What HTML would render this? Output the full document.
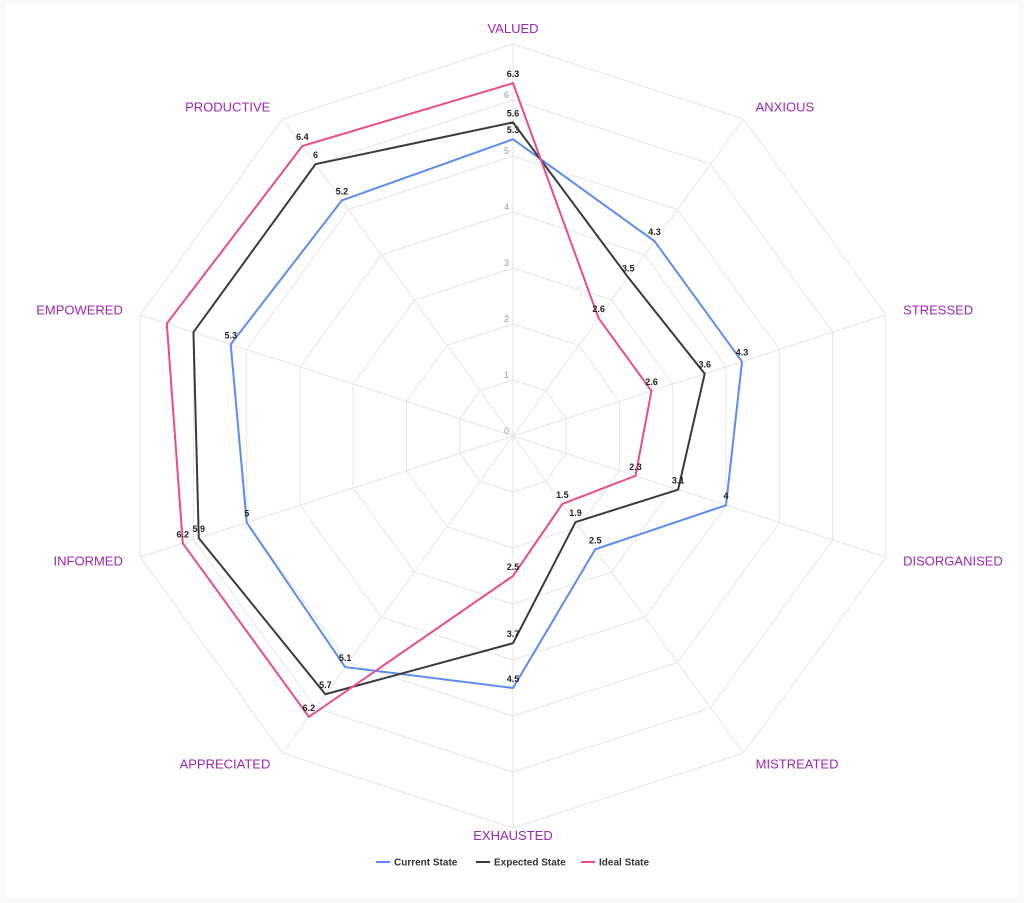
<!DOCTYPE html>
<html><head><meta charset="utf-8"><style>
body{margin:0;background:#fafafa;}
svg{display:block;font-family:"Liberation Sans",sans-serif;}
</style></head><body>
<svg id="c" width="1024" height="903"></svg>
<script>
const categories=["VALUED","ANXIOUS","STRESSED","DISORGANISED","MISTREATED","EXHAUSTED","APPRECIATED","INFORMED","EMPOWERED","PRODUCTIVE"];
const currentState=[5.3,4.3,4.3,4,2.5,4.5,5.1,5,5.3,5.2];
const expectedState=[5.6,3.5,3.6,3.1,1.9,3.7,5.7,5.9,6,6];
const idealState=[6.3,2.6,2.6,2.3,1.5,2.5,6.2,6.2,6.5,6.4];
const tickLabels=[0,1,2,3,4,5,6];
const hiddenLabels={"expected-state":[8],"ideal-state":[8]};
const NS="http://www.w3.org/2000/svg";
const svg=document.getElementById('c');
const cx=513,cy=436,unit=56,maxV=7;
function mk(t,a,p){const e=document.createElementNS(NS,t);for(const k in a)e.setAttribute(k,a[k]);(p||svg).appendChild(e);return e;}
function ang(i){return i*2*Math.PI/categories.length;}
function pt(i,v){const a=ang(i);return [cx+Math.sin(a)*v*unit, cy-Math.cos(a)*v*unit];}
const bg=mk('rect',{x:6,y:4,width:1012,height:895,fill:'#fff'});


const grid=mk('g',{});


for(let r=1;r<=maxV;r++){
  const p=categories.map((c,i)=>pt(i,r).join(',')).join(' ');
  const ring=mk('polygon',{points:p,fill:'none',stroke:'#e6e6e6','stroke-width':1},grid);
  
  
}
categories.forEach((c,i)=>{
  const [x,y]=pt(i,maxV);
  const l=mk('line',{x1:cx,y1:cy,x2:x,y2:y,stroke:'#e6e6e6','stroke-width':1},grid);
  
  
  let [lx,ly]=pt(i,maxV+0.25);
  const s=Math.sin(ang(i)), co=Math.cos(ang(i));
  const anchor=Math.abs(s)<0.1?'middle':(s>0?'start':'end');
  let by=ly+4;
  if(anchor==='middle') by = co>0 ? ly+3 : ly-2;
  const t=mk('text',{x:lx+(anchor==='start'?4:anchor==='end'?-4:0),y:by,'text-anchor':anchor,fill:'#9c27b0','font-size':13});
  t.textContent=c;
  
  
});
tickLabels.forEach(v=>{
  const [x,y]=pt(0,v);
  const t=mk('text',{x:x-4,y:y-2,'text-anchor':'end',fill:'#999','font-size':9});
  t.textContent=v;
  
  
});
const series=[["current-state",currentState,"#5b8def"],["expected-state",expectedState,"#3a3a3a"],["ideal-state",idealState,"#ea4c89"]];
series.forEach(([name,vals,col])=>{
  const g=mk('g',{});
  
  
  const p=vals.map((v,i)=>pt(i,v).join(',')).join(' ');
  const poly=mk('polygon',{points:p,fill:'none',stroke:col,'stroke-width':2},g);
  
  
  vals.forEach((v,i)=>{
    if((hiddenLabels[name]||[]).includes(i))return;
    const [x,y]=pt(i,v);
    const t=mk('text',{x:x,y:y-6,'text-anchor':'middle',fill:'#222','font-size':9,'font-weight':'bold'},g);
    t.textContent=v;
    
    
  });
});
const legend=mk('g',{});


const lx=[376,476,581],names=["Current State","Expected State","Ideal State"];
series.forEach((s,k)=>{
  const e=mk('g',{},legend);
  
  
  mk('line',{x1:lx[k],y1:862,x2:lx[k]+14,y2:862,stroke:s[2],'stroke-width':2},e);
  const t=mk('text',{x:lx[k]+18,y:865.5,fill:'#333','font-size':10,'font-weight':'bold'},e);
  t.textContent=names[k];
});
</script>
</body></html>
